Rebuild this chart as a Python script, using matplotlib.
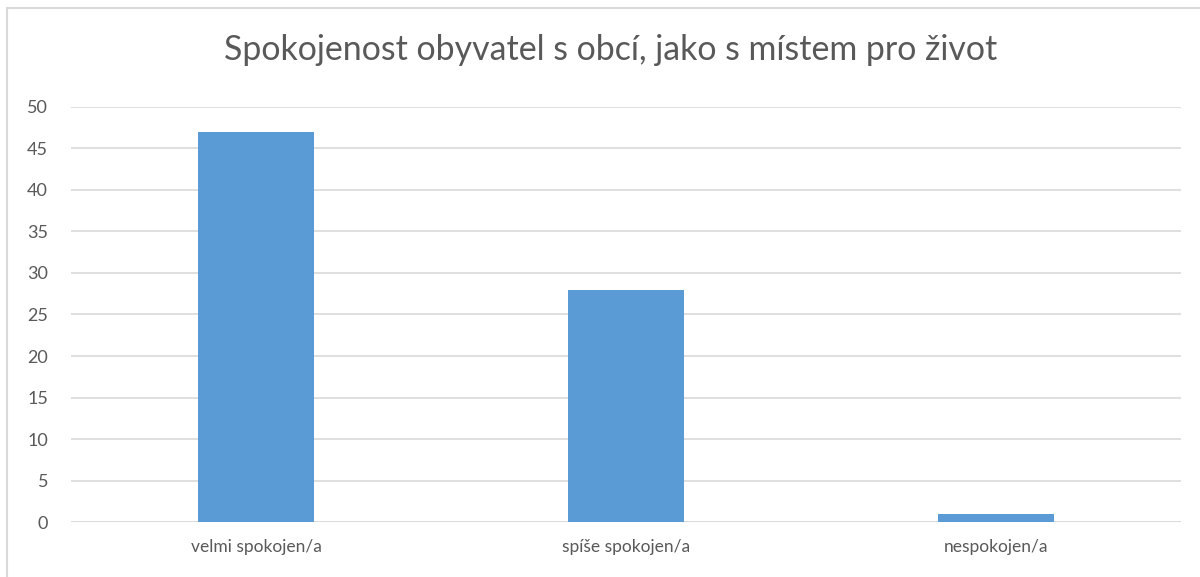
import matplotlib
matplotlib.use("Agg")
import matplotlib.pyplot as plt
from matplotlib.patches import Rectangle

categories = ["velmi spokojen/a", "spíše spokojen/a", "nespokojen/a"]
values = [47, 28, 1]
yticks = [0, 5, 10, 15, 20, 25, 30, 35, 40, 45, 50]
title = "Spokojenost obyvatel s obcí, jako s místem pro život"

plt.rcParams['font.family'] = ['Lato', 'DejaVu Sans']
text_color = "#595959"

fig = plt.figure(figsize=(12, 5.77), dpi=100)
ax = fig.add_axes([71/1200, 1-522.3/577, (1181-71)/1200, (522.3-106.7)/577])

x = list(range(len(categories)))
ax.bar(x, values, width=0.314, color="#5B9BD5", zorder=3)
ax.set_xlim(-0.5, len(categories) - 0.5)
ax.set_ylim(0, 50)
ax.set_yticks(yticks)
ax.set_yticklabels([str(t) for t in yticks], fontsize=13, color=text_color)
ax.set_xticks(x)
ax.set_xticklabels(categories, fontsize=12.5, color=text_color)
ax.tick_params(axis='both', length=0)
ax.tick_params(axis='y', pad=16.5)
ax.tick_params(axis='x', pad=12)
for lbl in ax.get_yticklabels():
    lbl.set_horizontalalignment('right')
ax.yaxis.grid(True, color="#D9D9D9", linewidth=1.2, zorder=0)
for s in ax.spines.values():
    s.set_visible(False)
ax.axhline(0, color="#D9D9D9", linewidth=1.2, zorder=2)

fig.text(611/1200, 1-50/577, title, ha='center', va='center', fontsize=24.4,
         color=text_color, fontweight='normal')

fig.patches.append(Rectangle((7/1200, -0.1), 1.2, 1-8/577+0.1, transform=fig.transFigure,
                             fill=False, edgecolor="#D9D9D9", linewidth=1.5))

fig.savefig("out.png", dpi=100)
